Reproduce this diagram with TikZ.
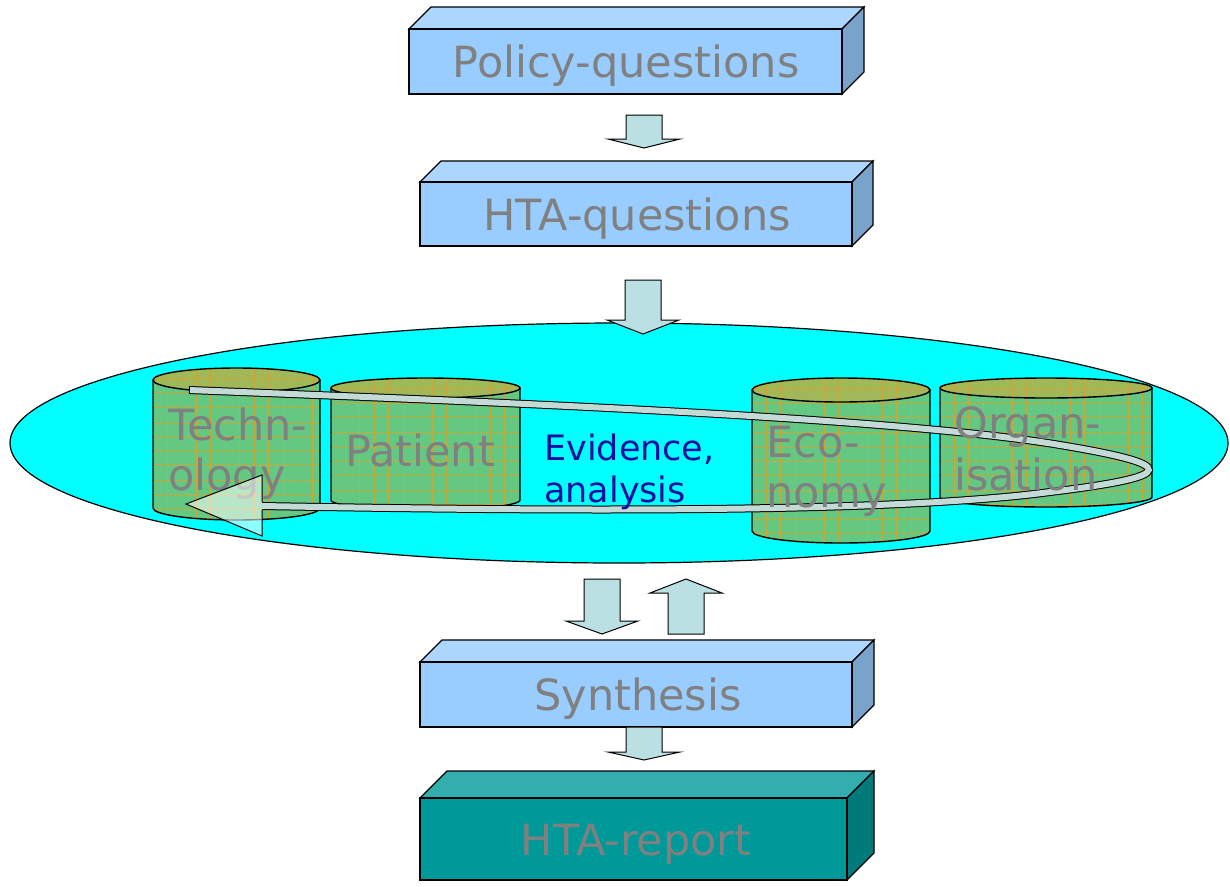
\documentclass[tikz,border=0pt]{standalone}
\usepackage{fontspec}
\setmainfont{DejaVu Sans}
\definecolor{boxfront}{HTML}{99CCFF}
\definecolor{boxtop}{HTML}{ADD6FF}
\definecolor{boxside}{HTML}{7AA3CC}
\definecolor{repfront}{HTML}{009999}
\definecolor{reptop}{HTML}{33ADAD}
\definecolor{repside}{HTML}{007A7A}
\definecolor{arrowfill}{HTML}{BBE0E3}
\definecolor{ellcyan}{HTML}{00FFFF}
\definecolor{cylgreen}{HTML}{64C882}
\definecolor{cyltop}{HTML}{A0B858}
\definecolor{gridorange}{HTML}{C8A838}
\definecolor{txtgray}{HTML}{808080}
\definecolor{evblue}{HTML}{1010A0}
\definecolor{bandfill}{HTML}{C4DAD6}
\tikzset{
  boxline/.style={draw=black, line width=1.2pt},
  blockarrow/.style={draw=black, line width=1pt, fill=arrowfill},
  cylline/.style={draw=black, line width=1.4pt},
  gridline/.style={draw=gridorange, line width=1pt},
  bigtext/.style={font=\fontsize{43}{50}\selectfont, text=txtgray, inner sep=0pt},
  evtext/.style={font=\fontsize{35}{42}\selectfont, text=evblue, inner sep=0pt},
}
% 3D box: x1 y1 x2 y2 depth front top side
\newcommand\threedbox[8]{%
  \filldraw[boxline, fill=#7] (#1,#2) -- ({#1+#5},{#2-#5}) -- ({#3+#5},{#2-#5}) -- (#3,#2) -- cycle;
  \filldraw[boxline, fill=#8] (#3,#2) -- ({#3+#5},{#2-#5}) -- ({#3+#5},{#4-#5}) -- (#3,#4) -- cycle;
  \filldraw[boxline, fill=#6] (#1,#2) rectangle (#3,#4);
}
% block arrow: cx, start, neck, tip
\newcommand\blockarr[4]{%
  \filldraw[blockarrow] ({#1-18},#2) -- ({#1+18},#2) -- ({#1+18},#3) -- ({#1+36},#3) -- (#1,#4) -- ({#1-36},#3) -- ({#1-18},#3) -- cycle;
}
% cylinder: x1 x2 ytop ybottom ry
\newcommand\cylinder[5]{%
  \pgfmathsetmacro\cylcx{(#1+#2)/2}%
  \pgfmathsetmacro\cylrx{(#2-#1)/2}%
  \begin{scope}
    \clip (#1,#3) -- (#1,#4) arc[start angle=180,end angle=360,x radius=\cylrx pt,y radius=#5pt] -- (#2,#3) arc[start angle=0,end angle=180,x radius=\cylrx pt,y radius=#5pt] -- cycle;
    \fill[cylgreen] (#1,{#3-#5}) rectangle (#2,{#4+#5});
    \fill[cyltop] (\cylcx,#3) ellipse[x radius=\cylrx pt,y radius=#5pt];
    \foreach \gi in {1,...,15} {\draw[gridline] ({#1+\gi*14.5-0.5},{#3-#5-2}) -- ++(0,175);}
    \foreach \gj in {1,...,12} {\draw[gridline] ({#1-2},{#3-#5-4+\gj*14.5}) -- ++(225,0);}
  \end{scope}
  \draw[cylline] (#1,#3) -- (#1,#4) arc[start angle=180,end angle=360,x radius=\cylrx pt,y radius=#5pt] -- (#2,#3);
  \draw[cylline] (\cylcx,#3) ellipse[x radius=\cylrx pt,y radius=#5pt];
}
\begin{document}
\begin{tikzpicture}[x=1pt,y=-1pt]
\useasboundingbox (0,0) rectangle (1230,886);
\fill[white] (0,0) rectangle (1230,886);

% boxes
\threedbox{409}{29}{842}{94}{22}{boxfront}{boxtop}{boxside}
\node[bigtext, anchor=base] (pq) at (626,77) {Policy-questions};
\threedbox{420}{182}{852}{246}{21}{boxfront}{boxtop}{boxside}
\node[bigtext, anchor=base] (hq) at (637,230) {HTA-questions};
\threedbox{420}{662}{852}{727}{22}{boxfront}{boxtop}{boxside}
\node[bigtext, anchor=base] (syn) at (638,710) {Synthesis};
\threedbox{420}{798}{847}{880}{27}{repfront}{reptop}{repside}
\node[bigtext, anchor=base] (rep) at (636,855) {HTA-report};

% evidence ellipse
\filldraw[fill=ellcyan, draw=black, line width=1.2pt] (619,443) ellipse[x radius=609pt, y radius=120pt];

% block arrows
\blockarr{644}{115}{139}{148}
\blockarr{643}{280}{320}{334}
\blockarr{602}{579}{621}{634}
\blockarr{686}{634}{593}{579}
\blockarr{644}{727}{752}{760}

% cylinders
\cylinder{153}{320}{380}{508}{12}
\cylinder{331}{520}{388}{500}{10}
\cylinder{752}{930}{390}{531}{12}
\cylinder{940}{1152}{388}{497}{10}

% loop band
\draw[double=bandfill, double distance=6pt, line width=1pt]
  (189,390) .. controls (500,402) and (900,418) .. (1060,445)
  .. controls (1180,465) and (1180,476) .. (1050,492)
  .. controls (900,512) and (600,512) .. (262,506);
\draw[line width=1pt] (189,386) -- (189,394);

% labels
\node[bigtext, anchor=base west] (tech1) at (168,440) {Techn-};
\node[bigtext, anchor=base west] (tech2) at (168,490) {ology};
\node[bigtext, anchor=base west] (pat) at (345,466) {Patient};
\node[bigtext, anchor=base west] (eco1) at (766,457) {Eco-};
\node[bigtext, anchor=base west] (eco2) at (766,507) {nomy};
\node[bigtext, anchor=base west] (org1) at (954,438) {Organ-};
\node[bigtext, anchor=base west] (org2) at (954,490) {isation};
\node[evtext, anchor=base west] (ev1) at (544,460) {Evidence,};
\node[evtext, anchor=base west] (ev2) at (544,502) {analysis};

% arrow head of the loop
\fill[white, fill opacity=0.55] (262,475) -- (186,504) -- (262,536) -- cycle;
\draw[line width=1pt] (262,502) -- (262,475) -- (186,504) -- (262,536) -- (262,510);
\end{tikzpicture}
\end{document}
